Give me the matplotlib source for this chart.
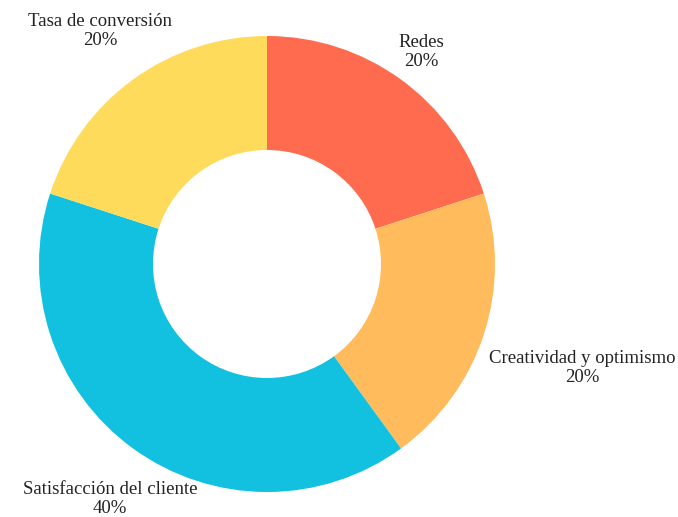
import matplotlib.pyplot as plt

labels = ["Redes", "Creatividad y optimismo", "Satisfacción del cliente", "Tasa de conversión"]
shares = [20, 20, 40, 20]
colors = ["#FF6B4E", "#FFBB5C", "#12C0E0", "#FFDB5C"]

# where each label block sits (data units, radius = 1)
label_pos = [(0.675, 0.93), (1.382, -0.456), (-0.689, -1.03), (-0.732, 1.022)]

plt.rcParams['font.family'] = ['Liberation Serif', 'DejaVu Serif']

fig = plt.figure(figsize=(6.78, 5.17), dpi=100)
ax = fig.add_axes([0, 0, 1, 1])

ax.pie(shares, colors=colors, startangle=90, counterclock=False,
       radius=1.0, wedgeprops=dict(width=0.5, linewidth=0))

total = sum(shares)
for name, val, (x, y) in zip(labels, shares, label_pos):
    ax.text(x, y, f"{name}\n{val / total * 100:.0f}%", ha="center", va="center",
            multialignment="center", fontsize=13.5, color="#222222", linespacing=1.2)

ax.set_aspect("equal")
ax.set_xlim(-267 / 228, 411 / 228)
ax.set_ylim(-253 / 228, 264 / 228)
ax.axis("off")

fig.savefig("out.png", dpi=100)
